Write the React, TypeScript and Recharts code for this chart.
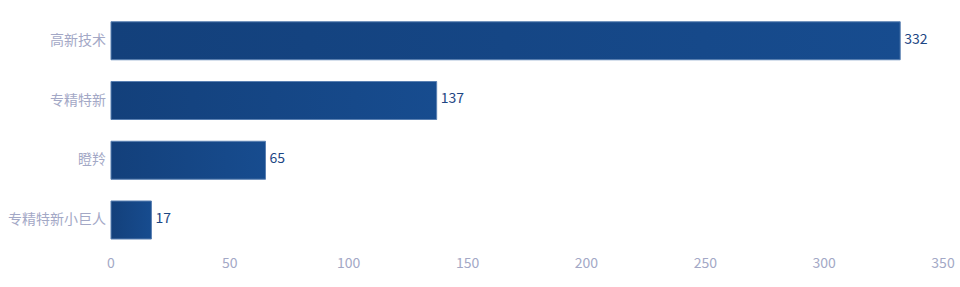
import React from 'react';
import { BarChart, Bar, XAxis, YAxis, LabelList } from 'recharts';

const categories = ['高新技术', '专精特新', '瞪羚', '专精特新小巨人'];
const counts = [332, 137, 65, 17];
const xTicks = [0, 50, 100, 150, 200, 250, 300, 350];

const data = categories.map((name, i) => ({ name, value: counts[i] }));

const FONT = '"Noto Sans CJK SC", "Noto Sans", sans-serif';

export default function App() {
  return (
    <div style={{ position: 'absolute', left: 0, top: 0, width: 960, height: 287, background: '#fff' }}>
      <BarChart
        width={960}
        height={287}
        data={data}
        layout="vertical"
        margin={{ top: 11, right: 17, bottom: 0, left: 0 }}
        barCategoryGap="18%"
      >
        <defs>
          <linearGradient id="barGrad" x1="0" y1="0" x2="1" y2="0">
            <stop offset="0%" stopColor="#13407b" />
            <stop offset="100%" stopColor="#174c8f" />
          </linearGradient>
        </defs>
        <XAxis
          type="number"
          domain={[0, 350]}
          ticks={xTicks}
          axisLine={false}
          tickLine={false}
          height={37}
          tickSize={6}
          tickMargin={2}
          tick={{ fill: '#a3a8c6', fontSize: 14, fontFamily: FONT }}
        />
        <YAxis
          type="category"
          dataKey="name"
          width={111}
          axisLine={false}
          tickLine={false}
          tickSize={0}
          tickMargin={5}
          tick={{ fill: '#a3a8c6', fontSize: 14, fontFamily: FONT, dy: -1 }}
        />
        <Bar
          dataKey="value"
          fill="url(#barGrad)"
          stroke="#5a80b2"
          strokeWidth={1}
          isAnimationActive={false}
        >
          <LabelList
            dataKey="value"
            position="right"
            offset={4}
            fill="#1d4683"
            fontSize={14}
            fontFamily={FONT}
            dy={-2}
          />
        </Bar>
      </BarChart>
    </div>
  );
}
